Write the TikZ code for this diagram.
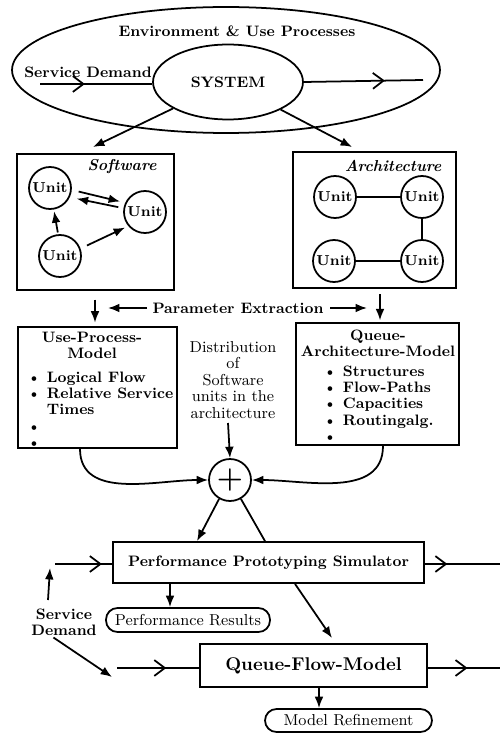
\documentclass[tikz,border=0pt]{standalone}
\usepackage{fontspec}
\usepackage{tikz}
\usetikzlibrary{shapes.geometric, arrows.meta, positioning, decorations.markings}
\tikzstyle{block} = [rectangle, draw=black, line width=1pt, inner sep=0pt]
\tikzstyle{unit} = [circle, draw=black, line width=1pt, minimum size=0.84cm, inner sep=0pt, font=\fontsize{8.2}{9}\selectfont\bfseries]
\tikzstyle{result} = [rectangle, rounded corners=0.23cm, draw=black, line width=1pt, inner sep=0pt, font=\fontsize{9}{10}\selectfont]
\tikzstyle{txt} = [font=\fontsize{8.6}{9.2}\selectfont\bfseries, inner sep=1pt]
\tikzstyle{plain} = [font=\fontsize{9}{9.4}\selectfont, inner sep=1pt]
\tikzstyle{arrow} = [line width=1pt,-{Latex[length=6.5pt,width=5pt]}]
\tikzset{flow/.style={line width=1pt, postaction={decorate, decoration={markings, mark=at position #1 with {\arrow{Straight Barb[length=6pt,width=9pt]}}}}}}

\begin{document}
\begin{tikzpicture}[x=0.02cm, y=-0.02cm]
    \useasboundingbox (0,0) rectangle (500,733);

    % environment and system
    \node (env) [ellipse, draw, line width=1pt, minimum width=8.56cm, minimum height=2.52cm] at (226,70) {};
    \node (envtxt) [txt] at (237,31) {Environment \& Use Processes};
    \node (sys) [ellipse, draw, line width=1pt, minimum width=3cm, minimum height=1.5cm, txt] at (228,82) {SYSTEM};
    \node (sdtxt) [txt] at (88,72) {Service Demand};
    \coordinate (sdin) at (40,84);
    \coordinate (sysout) at (423,80);
    \draw [flow=0.4] (sdin) -- (sdin -| sys.west);
    \draw [flow=0.68] (sys.east) -- (sysout);

    % software and architecture
    \node (sw) [block, minimum width=3.14cm, minimum height=2.72cm] at (95.5,222) {};
    \node (arch) [block, minimum width=3.26cm, minimum height=2.72cm] at (374.5,220) {};
    \node (swtxt) [txt, font=\fontsize{9}{9.2}\selectfont\bfseries\itshape] at (122,167) {Software};
    \node (archtxt) [txt, font=\fontsize{9}{9.2}\selectfont\bfseries\itshape] at (393,166) {Architecture};
    \coordinate (swin) at (93,147);
    \coordinate (archin) at (352,147);
    \draw [arrow] (sys) -- (swin);
    \draw [arrow] (sys) -- (archin);

    \node (u1) [unit] at (50,188) {Unit};
    \node (u2) [unit] at (145,212) {Unit};
    \node (u3) [unit] at (60,256) {Unit};
    \draw [arrow, shorten <=4pt, shorten >=3pt] (u1.-5) -- (u2.155);
    \draw [arrow, shorten <=3pt, shorten >=4pt] (u2.170) -- (u1.-25);
    \draw [arrow, shorten <=1pt, shorten >=1pt] (u3.95) -- (u1.-80);
    \draw [arrow, shorten <=4pt, shorten >=2pt] (u3.20) -- (u2.-140);

    \node (a1) [unit] at (335,197) {Unit};
    \node (a2) [unit] at (422,197) {Unit};
    \node (a3) [unit] at (334,261) {Unit};
    \node (a4) [unit] at (422,261) {Unit};
    \draw [line width=1pt] (a1) -- (a2) -- (a4) -- (a3);

    % parameter extraction
    \node (pe) [txt] at (238,308) {Parameter Extraction};
    \coordinate (peleft) at (108,308);
    \coordinate (peright) at (367,308);
    \draw [arrow] (147,308) -- (peleft);
    \draw [arrow] (330,308) -- (peright);

    % models
    \node (up) [block, minimum width=3.18cm, minimum height=2.42cm] at (97.5,387.5) {};
    \node (qa) [block, minimum width=3.26cm, minimum height=2.44cm] at (377.5,384) {};
    \draw [arrow, shorten <=5pt, shorten >=2pt] (95,0 |- sw.south) -- (95,0 |- up.north);
    \draw [arrow, shorten <=3pt, shorten >=1pt] (380,0 |- arch.south) -- (380,0 |- qa.north);

    \node (uptxt) [txt, align=center] at (92,345) {Use-Process-\\Model};
    \node (uplist) [txt, align=left, anchor=north west] at (25,370) {\textbullet\ Logical Flow\\\textbullet\ Relative Service\\\phantom{\textbullet\ }Times\\\textbullet\\\textbullet};
    \node (qatxt) [txt, align=center] at (378,343) {Queue-\\Architecture-Model};
    \node (qalist) [txt, align=left, anchor=north west] at (321,364) {\textbullet\ Structures\\\textbullet\ Flow-Paths\\\textbullet\ Capacities\\\textbullet\ Routingalg.\\\textbullet};

    \node (dist) [plain, align=center] at (233,380) {Distribution\\of\\Software\\units in the\\architecture};

    % combination
    \node (plus) [circle, draw, line width=1pt, minimum size=0.84cm, inner sep=0pt, font=\fontsize{17}{17}\selectfont\bfseries] at (230,480) {+};
    \draw [arrow] (228,423) -- (plus.north);
    \draw [arrow] (80,0 |- up.south) to[out=-90, in=180] (plus.west);
    \draw [arrow] (383,0 |- qa.south) to[out=-90, in=0] (plus.east);

    % simulator
    \node (pps) [block, minimum width=6.22cm, minimum height=0.82cm, txt] at (268.5,562.5) {Performance Prototyping Simulator};
    \draw [arrow] (plus.-120) -- (197,0 |- pps.north);
    \draw [line width=1pt] (plus.-60) -- (265,0 |- pps.north);
    \node (pr) [result, minimum width=3.28cm, minimum height=0.48cm] at (188,620) {Performance Results};
    \draw [arrow] (170,0 |- pps.south) -- (170,0 |- pr.north);

    \coordinate (ppsin) at (55,564);
    \coordinate (ppsout) at (500,564);
    \draw [flow=0.82] (ppsin) -- (ppsin -| pps.west);
    \draw [flow=0.3] (pps.east |- ppsout) -- (ppsout);

    % queue flow model
    \node (qfm) [block, minimum width=4.54cm, minimum height=0.86cm, txt, font=\fontsize{10.5}{11}\selectfont\bfseries] at (313.5,665.5) {Queue-Flow-Model};
    \coordinate (qfmtop) at (332,638);
    \draw [arrow] (295,0 |- pps.south) -- (qfmtop);
    \node (mr) [result, minimum width=3.34cm, minimum height=0.46cm] at (348.5,720.5) {Model Refinement};
    \draw [arrow] (319,0 |- qfm.south) -- (319,0 |- mr.north);

    \coordinate (qfmin) at (117,668);
    \coordinate (qfmout) at (500,668);
    \draw [flow=0.6] (qfmin) -- (qfmin -| qfm.west);
    \draw [flow=0.55] (qfm.east |- qfmout) -- (qfmout);

    % service demand
    \node (sd) [txt, align=center] at (64,622) {Service\\Demand};
    \coordinate (sdup) at (50,568);
    \coordinate (sdlow) at (112,677);
    \draw [arrow] (48,600) -- (sdup);
    \draw [arrow] ([xshift=-6pt]sd.south) -- (sdlow);
\end{tikzpicture}
\end{document}
